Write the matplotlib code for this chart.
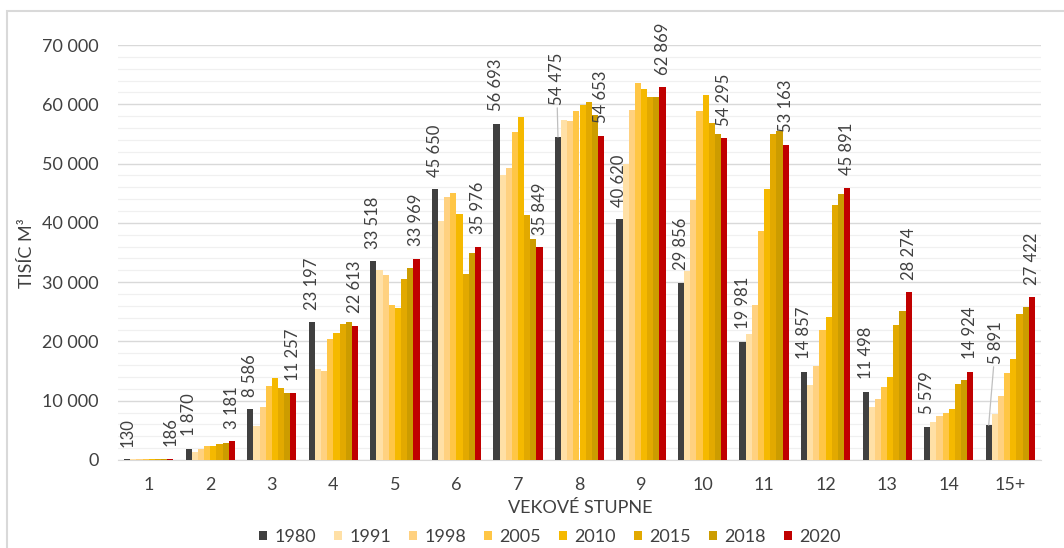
import matplotlib
matplotlib.use("Agg")
import matplotlib.pyplot as plt
from matplotlib.patches import Patch, Rectangle
import numpy as np

categories = ["1", "2", "3", "4", "5", "6", "7", "8", "9", "10", "11", "12", "13", "14", "15+"]
years = ["1980", "1991", "1998", "2005", "2010", "2015", "2018", "2020"]

v1980 = [130, 1870, 8586, 23197, 33518, 45650, 56693, 54475, 40620, 29856, 19981, 14857, 11498, 5579, 5891]
v1991 = [150, 1400, 5800, 15400, 32000, 40250, 48000, 57400, 49850, 31800, 21300, 12600, 9000, 6350, 7700]
v1998 = [160, 1900, 8950, 15050, 31150, 44400, 49300, 57150, 59000, 43900, 26150, 15850, 10350, 7350, 10850]
v2005 = [170, 2400, 12400, 20350, 26200, 45100, 55300, 58850, 63650, 58850, 38700, 21850, 12350, 7850, 14700]
v2010 = [180, 2400, 13750, 21400, 25700, 41550, 57850, 59800, 62550, 61650, 45750, 24200, 14000, 8600, 17050]
v2015 = [190, 2650, 12100, 22900, 30600, 31350, 41350, 60350, 61300, 56800, 54950, 43050, 22850, 12850, 24650]
v2018 = [190, 2950, 11250, 23200, 32350, 34850, 37200, 58150, 61300, 54950, 55450, 44900, 25150, 13550, 25850]
v2020 = [186, 3181, 11257, 22613, 33969, 35976, 35849, 54653, 62869, 54295, 53163, 45891, 28274, 14924, 27422]

series = [v1980, v1991, v1998, v2005, v2010, v2015, v2018, v2020]
colors = ["#404040", "#FFE0A6", "#FFD180", "#FFC645", "#F5B900", "#E2A900", "#CC9C00", "#C00000"]

TXT = "#404040"
FONT = ["Lato", "DejaVu Sans"]
plt.rcParams["font.family"] = FONT

fig = plt.figure(figsize=(10.64, 5.48), dpi=100)
ax = fig.add_axes([118 / 1064, 88 / 548, (1041 - 118) / 1064, (460 - 45) / 548])

x = np.arange(len(categories))
bw = 0.1
for k, (vals, c) in enumerate(zip(series, colors)):
    ax.bar(x + (k - 3.5) * bw, vals, width=bw, color=c, linewidth=0, zorder=3)

ax.set_xlim(-0.5, len(categories) - 0.5)
ax.set_ylim(0, 70000)
ax.set_yticks(np.arange(0, 70001, 10000))
ax.set_yticks(np.arange(0, 70001, 2000), minor=True)
ax.set_yticklabels([f"{int(v):,}".replace(",", " ") for v in np.arange(0, 70001, 10000)])
ax.set_xticks(x)
ax.set_xticklabels(categories)
ax.grid(axis="y", which="major", color="#d9d9d9", linewidth=1.0, zorder=0)
ax.grid(axis="y", which="minor", color="#f0f0f0", linewidth=0.9, zorder=0)
for s in ["top", "right", "left"]:
    ax.spines[s].set_visible(False)
ax.spines["bottom"].set_color("#d9d9d9")
ax.tick_params(axis="both", which="both", length=0, labelsize=13, colors=TXT)
ax.tick_params(axis="y", pad=14)
ax.tick_params(axis="x", pad=12)

# data labels for 1980 and 2020
for i in range(len(categories)):
    for k, vals in ((0, v1980), (7, v2020)):
        xb = x[i] + (k - 3.5) * bw
        dx, dy, leader = 0, 9, False
        if k == 0 and i == 7:
            dx, dy, leader = -1, 23, True
        if k == 0 and i == 14:
            dx, dy, leader = 5, 44, True
        ap = dict(arrowstyle="-", color="#bfbfbf", lw=0.9, shrinkA=0, shrinkB=0) if leader else None
        ax.annotate(f"{vals[i]:,}".replace(",", " "), xy=(xb, vals[i]), xytext=(dx, dy),
                    textcoords="offset points", rotation=90, ha="center", va="bottom",
                    fontsize=12, color=TXT, arrowprops=ap, zorder=5)

fig.text(580 / 1064, 1 - 508 / 548, "VEKOVÉ STUPNE", ha="center", va="center", fontsize=13, color=TXT)
fig.text(27 / 1064, 1 - 253 / 548, "TISÍC M³", ha="center", va="center", rotation=90, fontsize=13, color=TXT)

handles = [Patch(facecolor=c, edgecolor="none", label=y) for y, c in zip(years, colors)]
fig.legend(handles=handles, loc="center", bbox_to_anchor=(550 / 1064, 1 - 537 / 548), ncol=8,
           frameon=False, fontsize=13, handlelength=0.45, handleheight=0.45, handletextpad=0.4,
           columnspacing=1.0, labelcolor=TXT, borderpad=0.1)

fig.patches.append(Rectangle((7 / 1064, -0.2), 1.5, 1.2 - 11 / 548, transform=fig.transFigure,
                             fill=False, edgecolor="#d9d9d9", linewidth=1.5))

fig.savefig("out.png", dpi=100)
